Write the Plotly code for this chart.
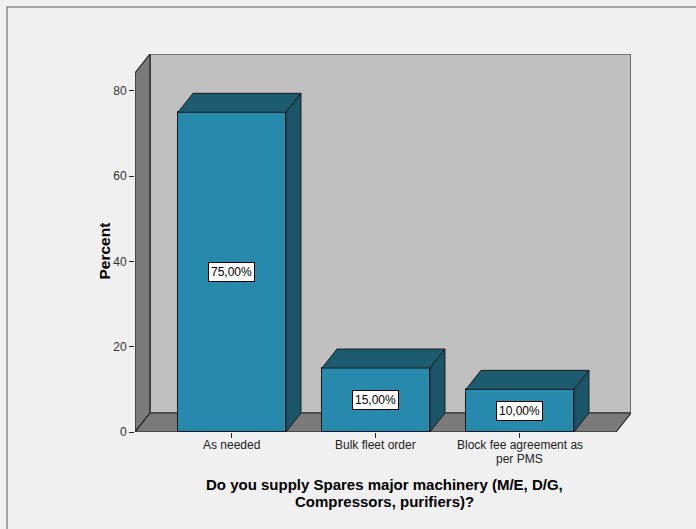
import plotly.graph_objects as go

categories = ["As needed", "Bulk fleet order", "Block fee agreement as<br>per PMS"]
percents = [75.0, 15.0, 10.0]
value_labels = ["75,00%", "15,00%", "10,00%"]
y_ticks = [0, 20, 40, 60, 80]
x_title_lines = ["Do you supply Spares major machinery (M/E, D/G,", "Compressors, purifiers)?"]
y_title = "Percent"

# --- geometry (data units) ---
xpos = list(range(len(categories)))
bar_w = 0.75
DX = 15 / 144.0          # depth offset in x units
DY = 19 / 4.2625         # depth offset in y units
X0, X1 = -0.6736, 2.667  # front floor edges
YTOP = 84.22             # front top of left wall

FRONT = "#2789AB"
TOP = "#1D5B70"
SIDE = "#1A5569"
EDGE = "#1a1a1a"
FONT = "Arial, Liberation Sans"

fig = go.Figure()

# front faces
fig.add_trace(go.Bar(x=xpos, y=percents, width=bar_w,
                     marker=dict(color=FRONT, line=dict(color=EDGE, width=1)),
                     hoverinfo="skip", showlegend=False))

# top and side faces
for c, v in zip(xpos, percents):
    l, r = c - bar_w / 2, c + bar_w / 2
    fig.add_trace(go.Scatter(x=[l, r, r + DX, l + DX, l], y=[v, v, v + DY, v + DY, v],
                             fill="toself", fillcolor=TOP, mode="lines",
                             line=dict(color=EDGE, width=1), hoverinfo="skip", showlegend=False))
    fig.add_trace(go.Scatter(x=[r, r + DX, r + DX, r, r], y=[0, DY, v + DY, v, 0],
                             fill="toself", fillcolor=SIDE, mode="lines",
                             line=dict(color=EDGE, width=1), hoverinfo="skip", showlegend=False))

def poly(pts):
    return "M " + " L ".join(f"{x},{y}" for x, y in pts) + " Z"

shapes = [
    dict(type="path", xref="x", yref="y", layer="below",
         path=poly([(X0 + DX, DY), (X1 + DX, DY), (X1 + DX, YTOP + DY), (X0 + DX, YTOP + DY)]),
         fillcolor="#C0C0C0", line=dict(color="#333333", width=1.2)),
    dict(type="path", xref="x", yref="y", layer="below",
         path=poly([(X0, 0), (X0 + DX, DY), (X0 + DX, YTOP + DY), (X0, YTOP)]),
         fillcolor="#7A7A7A", line=dict(color="#222222", width=1.2)),
    dict(type="path", xref="x", yref="y", layer="below",
         path=poly([(X0, 0), (X1, 0), (X1 + DX, DY), (X0 + DX, DY)]),
         fillcolor="#7A7A7A", line=dict(color="#222222", width=1.2)),
    dict(type="rect", xref="paper", yref="paper", layer="below",
         x0=(7 - 135) / 496, x1=(702 - 135) / 496,
         y0=(432 - 540) / 378, y1=(432 - 7) / 378,
         line=dict(color="#8a8a8a", width=1.5), fillcolor="rgba(0,0,0,0)"),
]

def py(pix):
    return (432 - pix) / 378

def px(pix):
    return (pix - 135) / 496

annotations = []
for c, v, t in zip(xpos, percents, value_labels):
    annotations.append(dict(x=c, y=v / 2, xref="x", yref="y", text=t, showarrow=False,
                            font=dict(family=FONT, size=12, color="black"),
                            bgcolor="white", bordercolor="black", borderwidth=1, borderpad=2))

# category labels (tight line spacing)
for c, lab in zip(xpos, categories):
    for i, line in enumerate(lab.split("<br>")):
        annotations.append(dict(x=c, xref="x", yref="paper", y=py(445 + 14 * i),
                                yanchor="middle", xanchor="center", showarrow=False, text=line,
                                font=dict(family=FONT, size=12, color="#222222")))

for i, line in enumerate(x_title_lines):
    annotations.append(dict(xref="paper", yref="paper", x=px(384), y=py(484 + 17 * i),
                            yanchor="middle", xanchor="center", showarrow=False,
                            text=f"<b>{line}</b>",
                            font=dict(family=FONT, size=15, color="black")))
annotations.append(dict(xref="paper", yref="paper", x=px(93), y=py(251),
                        textangle=-90, showarrow=False, text=f"<b>{y_title}</b>",
                        font=dict(family=FONT, size=15.5, color="black")))

fig.update_layout(
    width=696, height=529,
    margin=dict(l=135, r=65, t=54, b=97),
    paper_bgcolor="#F0F0F0", plot_bgcolor="#F0F0F0",
    shapes=shapes, annotations=annotations,
    showlegend=False, bargap=0,
    xaxis=dict(range=[X0, X1 + DX], tickvals=xpos, showticklabels=False,
               showgrid=False, zeroline=False, showline=False,
               ticks="outside", ticklen=5, tickcolor="#222222", tickwidth=1,
               fixedrange=True),
    yaxis=dict(range=[0, YTOP + DY], tickvals=y_ticks,
               showgrid=False, zeroline=False, showline=False,
               ticks="outside", ticklen=5, tickcolor="#222222", tickwidth=1,
               tickfont=dict(family=FONT, size=12, color="#333333"),
               fixedrange=True),
)

fig.write_html("out.html")
